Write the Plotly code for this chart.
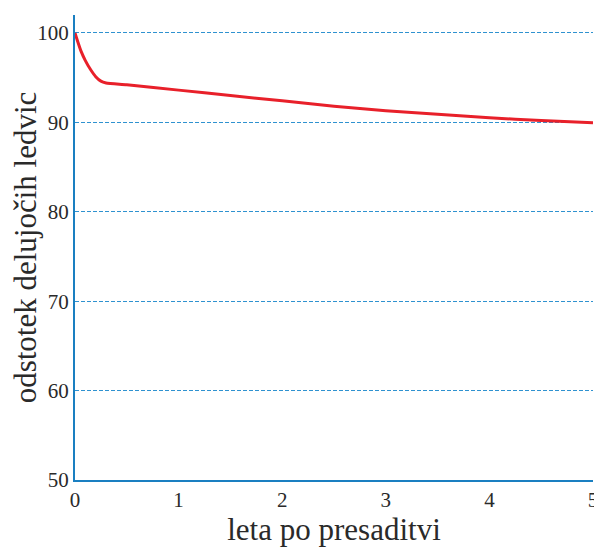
import plotly.graph_objects as go

years = [0, 0.03, 0.06, 0.1, 0.15, 0.2, 0.25, 0.3, 0.5, 1.0, 1.5, 2.0, 2.5, 3.0, 3.5, 4.0, 4.5, 5.0]
percent = [100, 98.9, 97.9, 96.9, 95.9, 95.1, 94.6, 94.4, 94.2, 93.6, 93.0, 92.4, 91.8, 91.3, 90.9, 90.5, 90.2, 89.95]
x_ticks = [0, 1, 2, 3, 4, 5]
y_ticks = [50, 60, 70, 80, 90, 100]

blue = "#1a7fc1"
grid_blue = "#2f92d0"
font_family = "Liberation Serif, DejaVu Serif, serif"
text_color = "#2a2a2a"

fig = go.Figure()
fig.add_trace(go.Scatter(x=years, y=percent, mode="lines",
                         line=dict(color="#e8202a", width=3, shape="spline", smoothing=0.6),
                         showlegend=False, hoverinfo="skip", cliponaxis=False))

# page body has an 8px default margin, so the figure is sized/offset to compensate
fig.update_layout(
    width=594, height=541,
    margin=dict(l=67, r=9, t=7, b=69, autoexpand=False),
    paper_bgcolor="white", plot_bgcolor="white",
    font=dict(family=font_family, color=text_color, size=21),
)
fig.update_xaxes(range=[0, 5], tickvals=x_ticks, showgrid=False, zeroline=False,
                 showline=True, linecolor=blue, linewidth=2, ticks="", automargin=False,
                 ticklabeloverflow="allow",
                 title=dict(text="leta po presaditvi", font=dict(size=31, family=font_family, color=text_color), standoff=7),
                 tickfont=dict(size=21, family=font_family, color=text_color))
fig.update_yaxes(range=[50, 102], tickvals=y_ticks, showgrid=True, gridcolor=grid_blue,
                 griddash="4px,2px", gridwidth=1, zeroline=False, automargin=False,
                 showline=True, linecolor=blue, linewidth=2, ticks="",
                 title=dict(text="odstotek delujočih ledvic", font=dict(size=31, family=font_family, color=text_color), standoff=0),
                 tickfont=dict(size=21, family=font_family, color=text_color))

fig.write_html("out.html")
